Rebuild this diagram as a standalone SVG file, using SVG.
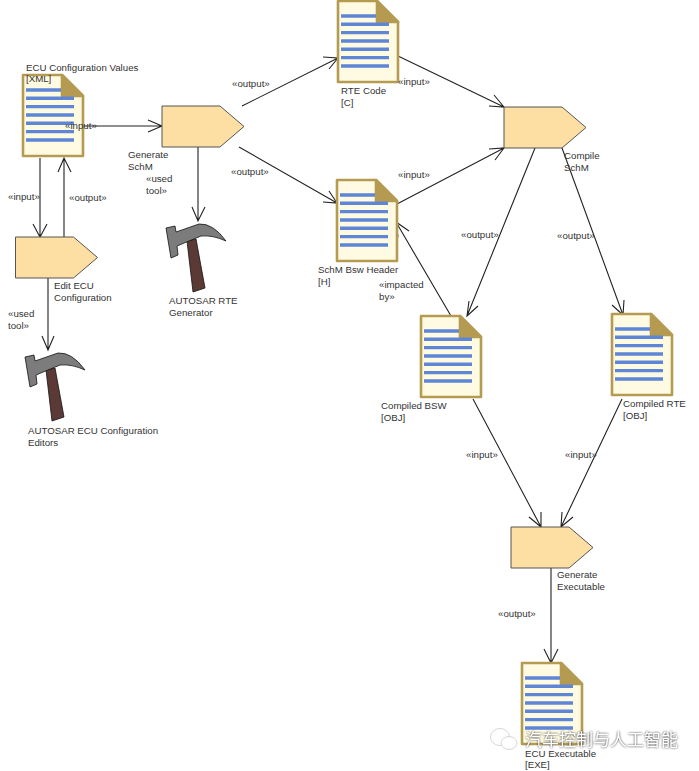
<svg xmlns="http://www.w3.org/2000/svg" width="699" height="771" viewBox="0 0 699 771">
<style>
text{font-family:"Liberation Sans",Arial,sans-serif;font-size:9.7px;fill:#333}
.c{fill:none;stroke:#222;stroke-width:1.1}
.p{fill:#fddea3;stroke:#555;stroke-width:1}
.wm{font-family:"Noto Sans CJK SC",sans-serif;font-size:17px;fill:#fff;filter:drop-shadow(0 0 .8px #333)}
</style>
<defs>
<g id="doc">
<path d="M1 1H40L61 22V82H1Z" fill="#fffbe3" stroke="#b59a52" stroke-width="2.6" stroke-linejoin="round"/>
<path d="M40 1L61 22H40Z" fill="#b59a52" stroke="#b59a52" stroke-width="2.6" stroke-linejoin="round"/>
<path d="M4 16H39M4 24.300H52M4 32.600H52M4 41H52M4 49.300H52M4 57.600H52M4 66H52" stroke="#5f86d6" stroke-width="3.400" fill="none"/>
</g>
<g id="hammer">
<path d="M46 370L55 368L64 417L52 421Z" fill="#5b3a36" stroke="#111" stroke-width=".8"/>
<path d="M25 357L34 355L35 361L58 353Q72 352 85 370Q72 364 60 365L36 375L37 384L30 387Z" fill="#7c7c7c" stroke="#111" stroke-width=".8"/>
</g>
<path id="pent" d="M0 0H58L82 20.500L58 41H0Z"/>
</defs>
<g id="connectors">
<path class="c" d="M40 158V237M33 224L40 237L47 224"/>
<path class="c" d="M64 237V158M58 172L64 158L71 172"/>
<path class="c" d="M83 126H162M148 120L162 126L148 132"/>
<path class="c" d="M198 147V221M192 207L198 221L205 207"/>
<path class="c" d="M48 278V350M42 336L48 350L54 336"/>
<path class="c" d="M242 106L338 58M323 57L338 58L329 69"/>
<path class="c" d="M239 147L337 203M323 202L337 203L329 191"/>
<path class="c" d="M398 56L504 107M489 106L504 107L494 95"/>
<path class="c" d="M397 204L504 148M489 149L504 148L495 160"/>
<path class="c" d="M451 316L396 222M398 237L396 222L409 231"/>
<path class="c" d="M535 148L467 316M469 301L467 316L478 306"/>
<path class="c" d="M562 148L623 315M612 305L623 315L624 300"/>
<path class="c" d="M473 399L541 527M529 517L541 527L541 512"/>
<path class="c" d="M622 399L561 527M562 512L561 527L573 517"/>
<path class="c" d="M551 568V663M544 649L551 663L558 649"/>
</g>
<g id="ecu-config"><use href="#doc" x="22" y="74"/><text x="26" y="71">ECU Configuration Values</text><text x="26" y="82">[XML]</text></g>
<g id="generate-schm"><use href="#pent" class="p" x="162" y="106"/><text x="128" y="158">Generate</text><text x="128" y="170">SchM</text></g>
<g id="edit-ecu"><use href="#pent" class="p" x="15.500" y="237"/><text x="54" y="289">Edit ECU</text><text x="54" y="301">Configuration</text></g>
<g id="rte-generator"><use href="#hammer" x="141" y="-129"/><text x="169" y="304">AUTOSAR RTE</text><text x="169" y="316">Generator</text></g>
<g id="ecu-editors"><use href="#hammer"/><text x="28" y="434">AUTOSAR ECU Configuration</text><text x="28" y="446">Editors</text></g>
<g id="rte-code"><use href="#doc" x="337" y="0"/><text x="341" y="94">RTE Code</text><text x="341" y="106">[C]</text></g>
<g id="schm-header"><use href="#doc" x="336" y="179"/><text x="318" y="273">SchM Bsw Header</text><text x="318" y="285">[H]</text></g>
<g id="compile-schm"><use href="#pent" class="p" x="504" y="107"/><text x="564" y="159">Compile</text><text x="564" y="171">SchM</text></g>
<g id="compiled-bsw"><use href="#doc" x="420" y="315"/><text x="381" y="409">Compiled BSW</text><text x="381" y="421">[OBJ]</text></g>
<g id="compiled-rte"><use href="#doc" x="611" y="313"/><text x="623" y="407">Compiled RTE</text><text x="623" y="419">[OBJ]</text></g>
<g id="generate-exe"><use href="#pent" class="p" x="511" y="527"/><text x="557" y="578">Generate</text><text x="557" y="590">Executable</text></g>
<g id="ecu-exe"><use href="#doc" x="521" y="662"/><text x="525" y="757">ECU Executable</text><text x="525" y="768">[EXE]</text></g>
<g id="labels">
<text x="65" y="129">«input»</text>
<text x="8" y="200">«input»</text>
<text x="69" y="201">«output»</text>
<text x="146" y="182">«used</text><text x="146" y="194">tool»</text>
<text x="8" y="317">«used</text><text x="8" y="329">tool»</text>
<text x="232" y="87">«output»</text>
<text x="231" y="175">«output»</text>
<text x="398" y="85">«input»</text>
<text x="398" y="178">«input»</text>
<text x="461" y="238">«output»</text>
<text x="557" y="239">«output»</text>
<text x="379" y="288">«impacted</text><text x="379" y="300">by»</text>
<text x="466" y="458">«input»</text>
<text x="565" y="458">«input»</text>
<text x="498" y="617">«output»</text>
</g>
<g id="watermark">
<ellipse cx="500" cy="737" rx="9.500" ry="8.500" fill="#fff" stroke="#ccc" stroke-width=".8"/>
<ellipse cx="509" cy="743" rx="8" ry="6.500" fill="#fff" stroke="#ccc" stroke-width=".8"/>
<text class="wm" x="525" y="745.500">汽车控制与人工智能</text>
</g>
</svg>
